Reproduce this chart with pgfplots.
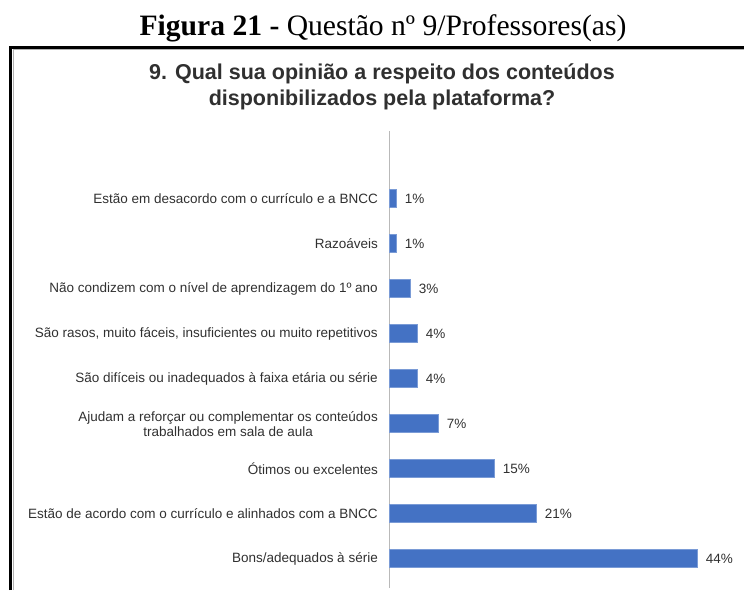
\documentclass[border=0pt]{standalone}
\usepackage{pgfplots}
\pgfplotsset{compat=1.18}
\usepackage{fontspec}
\setmainfont{Liberation Sans}
\newfontfamily\timesfont{Liberation Serif}
\definecolor{barblue}{HTML}{4472C4}
\definecolor{baredge}{HTML}{7A9BD6}
\definecolor{labgray}{HTML}{303030}
\begin{document}
\begin{tikzpicture}[x=1pt,y=1pt]
\useasboundingbox (0,0) rectangle (744,590);
% caption above the frame
\node[font=\timesfont\fontsize{29.6}{34}\selectfont, anchor=base] at (383,554.5)
  {\textbf{Figura 21 -} Questão nº 9/Professores(as)};
% frame (left and top edges only)
\draw[gray!60, line width=1pt] (13.5,0) -- (13.5,540.5) -- (750,540.5);
\draw[black, line width=3pt] (10.5,0) -- (10.5,542.5) -- (750,542.5);
% chart title
\node[font=\fontsize{21.5}{26}\selectfont\bfseries, align=center, text=labgray] at (382,503)
  {9. Qual sua opinião a respeito dos conteúdos\\disponibilizados pela plataforma?};
\begin{axis}[
    at={(389pt,2pt)},
    anchor=south west,
    scale only axis,
    width=350pt,
    height=456.75pt,
    xmin=0, xmax=50,
    ymin=-0.65, ymax=9.5,
    xbar,
    bar width=18pt,
    bar shift=0pt,
    axis x line=none,
    axis y line=left,
    y axis line style={-, draw=gray!55, line width=0.8pt},
    ytick={0,...,8},
    major tick length=0pt,
    yticklabels={
        Bons/adequados à série,
        Estão de acordo com o currículo e alinhados com a BNCC,
        Ótimos ou excelentes,
        {Ajudam a reforçar ou complementar os conteúdos\\trabalhados em sala de aula},
        São difíceis ou inadequados à faixa etária ou série,
        {São rasos, muito fáceis, insuficientes ou muito repetitivos},
        Não condizem com o nível de aprendizagem do 1º ano,
        Razoáveis,
        Estão em desacordo com o currículo e a BNCC
    },
    yticklabel style={font=\fontsize{13.5}{15}\selectfont, text=labgray,
        align=center, inner sep=0pt, xshift=-11pt},
    /pgf/number format/assume math mode=true,
    nodes near coords={\pgfmathprintnumber{\pgfplotspointmeta}\%},
    nodes near coords align=horizontal,
    every node near coord/.append style={font=\fontsize{13.5}{15}\selectfont,
        text=labgray, inner sep=0pt, xshift=8.5pt},
    clip=false,
]
\addplot[fill=barblue, draw=baredge, line width=0.6pt] coordinates {
    (44,0) (21,1) (15,2) (7,3) (4,4) (4,5) (3,6) (1,7) (1,8)
};
\end{axis}
\end{tikzpicture}
\end{document}
